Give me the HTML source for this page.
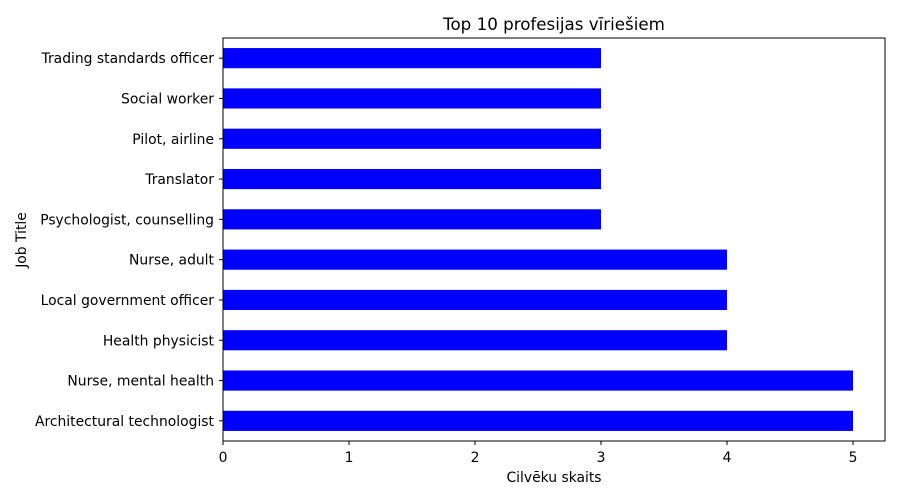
<!DOCTYPE html>
<html><head><meta charset="utf-8"><style>
body{margin:0;background:#fff;}
svg{display:block;font-family:"DejaVu Sans","Liberation Sans",sans-serif;}
</style></head><body>
<svg id="chart" width="900" height="500">
<text x="554" y="30" text-anchor="middle" font-size="16.7">Top 10 profesijas vīriešiem</text>
<g id="bars"></g>
<g id="yticks"></g>
<g id="xticks"></g>
<rect x="223" y="38" width="662" height="403" fill="none" stroke="#000" stroke-width="1"/>
<text x="554" y="482" text-anchor="middle" font-size="13.9">Cilvēku skaits</text>
<text x="0" y="0" transform="translate(26,240) rotate(-90)" text-anchor="middle" font-size="13.9">Job Title</text>
</svg>
<script>
const categories=["Trading standards officer","Social worker","Pilot, airline","Translator","Psychologist, counselling","Nurse, adult","Local government officer","Health physicist","Nurse, mental health","Architectural technologist"];
const values=[3,3,3,3,3,4,4,4,5,5];
const xTicks=[0,1,2,3,4,5];
const L=223,R=885,T=38,B=441,XMAX=5.254;
const ns="http://www.w3.org/2000/svg";
const xs=v=>L+v/XMAX*(R-L);
const step=(B-T)/categories.length;
const yc=i=>T+step*(i+0.5);
const bars=document.getElementById('bars'),yt=document.getElementById('yticks'),xt=document.getElementById('xticks');
function mk(t,a,p){const e=document.createElementNS(ns,t);for(const k in a)e.setAttribute(k,a[k]);p.appendChild(e);return e;}
categories.forEach((c,i)=>{
 const r=mk('rect',{x:xs(0),y:yc(i)-step*0.25,width:xs(values[i])-xs(0),height:step*0.5,fill:'#0000ff'},bars);
 
 
 mk('line',{x1:L-4,x2:L,y1:yc(i),y2:yc(i),stroke:'#000'},yt);
 const t=mk('text',{x:L-9,y:yc(i)+5,'text-anchor':'end','font-size':13.9},yt);
 t.textContent=c;
 
 
});
xTicks.forEach(v=>{
 mk('line',{x1:xs(v),x2:xs(v),y1:B,y2:B+4,stroke:'#000'},xt);
 const t=mk('text',{x:xs(v),y:B+21,'text-anchor':'middle','font-size':13.9},xt);
 t.textContent=v;
 
 
});
</script>
</body></html>
